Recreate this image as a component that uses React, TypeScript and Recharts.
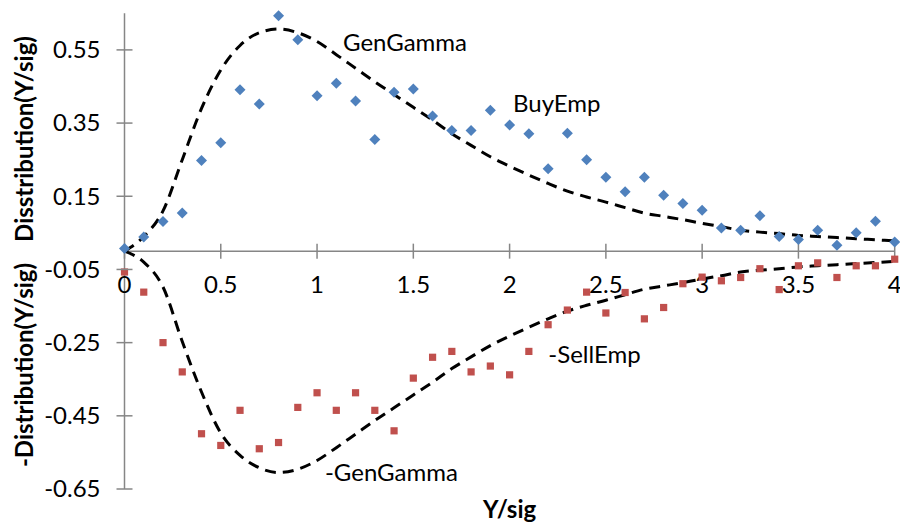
import {
  ComposedChart,
  Line,
  Scatter,
  XAxis,
  YAxis,
  ReferenceLine,
  ReferenceDot
} from "recharts";

// sample points, Y/sig
const xValues = [
  0, 0.1, 0.2, 0.3, 0.4, 0.5, 0.6, 0.7, 0.8, 0.9,
  1.0, 1.1, 1.2, 1.3, 1.4, 1.5, 1.6, 1.7, 1.8, 1.9,
  2.0, 2.1, 2.2, 2.3, 2.4, 2.5, 2.6, 2.7, 2.8, 2.9,
  3.0, 3.1, 3.2, 3.3, 3.4, 3.5, 3.6, 3.7, 3.8, 3.9,
  4.0
];

const buyEmp = [
  0.007, 0.039, 0.081, 0.104, 0.248, 0.296, 0.441, 0.402, 0.643, 0.578,
  0.425, 0.459, 0.41, 0.305, 0.434, 0.443, 0.369, 0.33, 0.33, 0.385,
  0.345, 0.321, 0.225, 0.322, 0.25, 0.202, 0.162, 0.202, 0.153, 0.13,
  0.112, 0.063, 0.057, 0.097, 0.04, 0.032, 0.057, 0.016, 0.05, 0.082,
  0.025
];

const sellEmp = [
  -0.057, -0.112, -0.25, -0.33, -0.499, -0.531, -0.435, -0.54, -0.523, -0.427,
  -0.387, -0.435, -0.387, -0.435, -0.491, -0.347, -0.29, -0.274, -0.33, -0.314,
  -0.338, -0.274, -0.201, -0.161, -0.112, -0.169, -0.113, -0.185, -0.154, -0.089,
  -0.071, -0.081, -0.072, -0.048, -0.105, -0.04, -0.032, -0.072, -0.04, -0.04,
  -0.022
];

const genGamma = [
  0, 0.04, 0.11, 0.25, 0.39, 0.495, 0.562, 0.597, 0.607, 0.597,
  0.573, 0.537, 0.5, 0.463, 0.428, 0.393, 0.358, 0.321, 0.289, 0.258,
  0.232, 0.208, 0.185, 0.164, 0.148, 0.134, 0.119, 0.104, 0.095, 0.086,
  0.076, 0.067, 0.057, 0.052, 0.048, 0.043, 0.04, 0.037, 0.034, 0.031,
  0.028
];

const negGenGamma = [
  0, -0.03, -0.098, -0.247, -0.385, -0.497, -0.558, -0.592, -0.605, -0.596,
  -0.572, -0.537, -0.5, -0.463, -0.428, -0.393, -0.358, -0.321, -0.289, -0.258,
  -0.232, -0.208, -0.185, -0.164, -0.148, -0.134, -0.119, -0.104, -0.095, -0.086,
  -0.076, -0.067, -0.057, -0.052, -0.048, -0.043, -0.04, -0.037, -0.034, -0.031,
  -0.028
];

const xTicks = [0, 0.5, 1, 1.5, 2, 2.5, 3, 3.5, 4];
const yTicks = [-0.65, -0.45, -0.25, -0.05, 0.15, 0.35, 0.55];

// series labels placed in data units (x, y of text baseline start)
const seriesLabels = [
  { text: "GenGamma", x: 1.135, y: 0.548 },
  { text: "BuyEmp", x: 2.018, y: 0.38 },
  { text: "-SellEmp", x: 2.201, y: -0.305 },
  { text: "-GenGamma", x: 1.041, y: -0.628 }
];

const FONT = "Lato, 'Open Sans', sans-serif";
const AXIS = "#868686";
const BLUE = "#4F81BD";
const RED = "#C0504D";

const toPoints = (ys: number[]) => xValues.map((x, i) => ({ x, y: ys[i] }));

const buyData = toPoints(buyEmp);
const sellData = toPoints(sellEmp);
const genData = toPoints(genGamma);
const negGenData = toPoints(negGenGamma);

const Diamond = (props: any) => {
  const { cx, cy } = props;
  const r = 5.5;
  return (
    <path
      d={`M${cx},${cy - r}L${cx + r},${cy}L${cx},${cy + r}L${cx - r},${cy}Z`}
      fill={BLUE}
    />
  );
};

const Square = (props: any) => {
  const { cx, cy } = props;
  const h = 3.6;
  return <rect x={cx - h} y={cy - h} width={h * 2} height={h * 2} fill={RED} />;
};

const YTick = (props: any) => {
  const { x, y, payload } = props;
  return (
    <g>
      <line x1={x - 8} x2={x + 8} y1={y} y2={y} stroke={AXIS} strokeWidth={1.5} />
      <text
        x={x - 24}
        y={y}
        dy="0.35em"
        textAnchor="end"
        fill="#000"
        fontSize={24}
        fontFamily={FONT}
      >
        {Number(payload.value).toFixed(2)}
      </text>
    </g>
  );
};

const xTickShape = (label: string) => (props: any) => {
  const { cx, cy } = props;
  return (
    <g>
      <line x1={cx} x2={cx} y1={cy - 7.5} y2={cy + 7.5} stroke={AXIS} strokeWidth={1.5} />
      <text
        x={cx}
        y={cy + 42}
        textAnchor="middle"
        fill="#000"
        fontSize={24}
        fontFamily={FONT}
      >
        {label}
      </text>
    </g>
  );
};

const labelShape = (text: string) => (props: any) => {
  const { cx, cy } = props;
  return (
    <text x={cx} y={cy} fill="#000" fontSize={24} fontFamily={FONT}>
      {text}
    </text>
  );
};

const App = () => {
  return (
    <div
      style={{
        position: "absolute",
        left: 0,
        top: 0,
        width: 900,
        height: 524,
        background: "#fff",
        fontFamily: FONT
      }}
    >
      <ComposedChart
        width={900}
        height={524}
        margin={{ top: 13.3, right: 5.3, bottom: 35, left: 64.5 }}
      >
        <XAxis type="number" dataKey="x" domain={[0, 4]} hide />
        <YAxis
          type="number"
          domain={[-0.65, 0.65]}
          ticks={yTicks}
          interval={0}
          width={60}
          axisLine={{ stroke: AXIS, strokeWidth: 1.5 }}
          tickLine={false}
          tickSize={0}
          tickMargin={0}
          tick={<YTick />}
        />
        <ReferenceLine y={0} stroke={AXIS} strokeWidth={1.5} />
        {xTicks.map((t) => (
          <ReferenceDot
            key={`xt-${t}`}
            x={t}
            y={0}
            r={0}
            ifOverflow="visible"
            shape={xTickShape(String(t))}
          />
        ))}
        <Line
          data={genData}
          dataKey="y"
          type="monotone"
          stroke="#000"
          strokeWidth={3}
          strokeDasharray="11 7"
          dot={false}
          activeDot={false}
          isAnimationActive={false}
        />
        <Line
          data={negGenData}
          dataKey="y"
          type="monotone"
          stroke="#000"
          strokeWidth={3}
          strokeDasharray="11 7"
          dot={false}
          activeDot={false}
          isAnimationActive={false}
        />
        <Scatter data={buyData} dataKey="y" shape={<Diamond />} isAnimationActive={false} />
        <Scatter data={sellData} dataKey="y" shape={<Square />} isAnimationActive={false} />
        {seriesLabels.map((l) => (
          <ReferenceDot
            key={l.text}
            x={l.x}
            y={l.y}
            r={0}
            ifOverflow="visible"
            shape={labelShape(l.text)}
          />
        ))}
      </ComposedChart>
      <svg
        width={900}
        height={524}
        style={{ position: "absolute", left: 0, top: 0, pointerEvents: "none" }}
      >
        <text
          transform="translate(33,139) rotate(-90)"
          textAnchor="middle"
          fontSize={24}
          fontWeight="bold"
          fontFamily={FONT}
        >
          Disstribution(Y/sig)
        </text>
        <text
          transform="translate(33,365) rotate(-90)"
          textAnchor="middle"
          fontSize={24}
          fontWeight="bold"
          fontFamily={FONT}
        >
          -Distribution(Y/sig)
        </text>
        <text x={509.6} y={518} textAnchor="middle" fontSize={24} fontWeight="bold" fontFamily={FONT}>
          Y/sig
        </text>
      </svg>
    </div>
  );
};

export default App;
